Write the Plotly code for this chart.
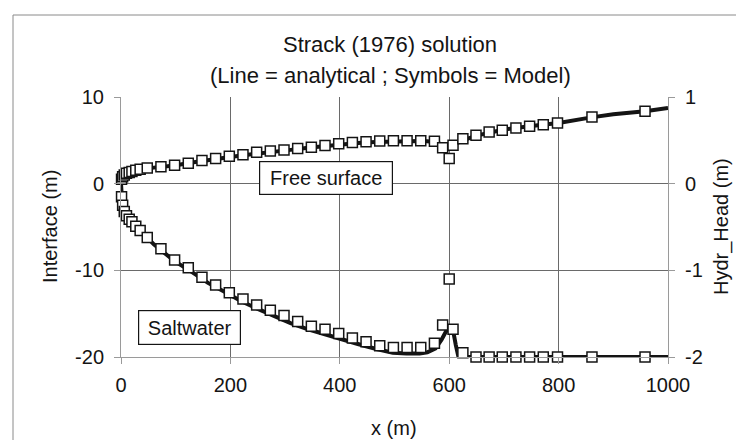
import plotly.graph_objects as go

# ---------------- data ----------------
# analytical solution (lines)
line_x = [0, 2, 5, 10, 20, 37, 60, 98, 130, 159, 190, 220, 250, 281, 310, 342, 372,
          403, 433, 465, 497, 522, 546, 560, 575, 586, 593, 598, 603, 607, 612, 617,
          625, 650, 675, 700, 750, 800, 860, 900, 958, 1000]
line_interface = [0, -2.0, -3.0, -3.8, -4.6, -5.5, -7.0, -8.95, -10.2, -11.45, -12.5,
                  -13.57, -14.45, -15.3, -16.1, -16.8, -17.4, -18.0, -18.5, -19.05,
                  -19.5, -19.6, -19.6, -19.45, -19.0, -18.0, -17.1, -16.6, -16.6, -16.9,
                  -18.6, -20, -20, -20, -20, -20, -20, -20, -20, -20, -20, -20]
line_head = [0, 0.07, 0.095, 0.115, 0.14, 0.165, 0.185, 0.21, 0.245, 0.275, 0.30, 0.325,
             0.35, 0.37, 0.39, 0.415, 0.435, 0.455, 0.47, 0.482, 0.49, 0.493, 0.492,
             0.488, 0.478, 0.455, 0.43, 0.40, 0.42, 0.44, 0.46, 0.475, 0.50, 0.555,
             0.595, 0.625, 0.665, 0.70, 0.765, 0.80, 0.835, 0.873]

# model results (symbols)
model_x = [1, 3, 6, 10, 15, 20, 27, 35, 48, 73, 98, 123, 148, 173, 198, 223, 248, 273,
           298, 323, 348, 373, 398, 423, 448, 473, 498, 523, 548, 573, 588, 600, 607,
           625, 649, 673, 697, 722, 747, 772, 798, 861, 958]
model_interface = [-1.5, -2.5, -3.2, -3.7, -4.1, -4.4, -4.9, -5.4, -6.2, -7.5, -8.8, -9.7,
                   -10.8, -11.7, -12.6, -13.3, -14.0, -14.6, -15.2, -15.9, -16.45, -16.8,
                   -17.3, -17.8, -18.25, -18.7, -18.9, -18.9, -18.9, -18.4, -16.3, -11.0,
                   -16.8, -19.5, -20, -20, -20, -20, -20, -20, -20, -20, -20]
model_head = [0.05, 0.08, 0.10, 0.12, 0.13, 0.14, 0.155, 0.165, 0.181, 0.195, 0.212,
              0.235, 0.266, 0.289, 0.316, 0.335, 0.362, 0.377, 0.389, 0.405, 0.42, 0.44,
              0.46, 0.475, 0.485, 0.492, 0.495, 0.495, 0.495, 0.488, 0.415, 0.289, 0.443,
              0.519, 0.558, 0.596, 0.615, 0.642, 0.662, 0.681, 0.70, 0.769, 0.835]

x_ticks = [0, 200, 400, 600, 800, 1000]
y_ticks = [-20, -10, 0, 10]
y_labels = ["-20", "-10", "0", "10"]
y2_ticks = [-2, -1, 0, 1]
y2_labels = ["-2", "-1", "0", "1"]

title_1 = "Strack (1976) solution"
title_2 = "(Line = analytical ; Symbols = Model)"

# ---------------- figure ----------------
FONT = "Liberation Sans, Arial, sans-serif"
BLACK = "#141414"
GRID = "#6a6a6a"
AXIS = "#9a9a9a"
FS = 20

fig = go.Figure()

fig.add_trace(go.Scatter(x=line_x, y=line_interface, mode="lines",
                         line=dict(color=BLACK, width=4), yaxis="y",
                         showlegend=False))
fig.add_trace(go.Scatter(x=line_x, y=line_head, mode="lines",
                         line=dict(color=BLACK, width=4), yaxis="y2",
                         showlegend=False))
marker = dict(symbol="square", size=10, color="white",
              line=dict(color=BLACK, width=1.5))
fig.add_trace(go.Scatter(x=model_x, y=model_interface, mode="markers",
                         marker=marker, yaxis="y", showlegend=False, cliponaxis=False))
fig.add_trace(go.Scatter(x=model_x, y=model_head, mode="markers",
                         marker=marker, yaxis="y2", showlegend=False, cliponaxis=False))

L, R, T, B = 113, 84, 89, 91
W, H = 744, 440
PW, PH = W - L - R, H - T - B


def px(xp):
    return (xp - L) / PW


def py(yp):
    return (H - B - yp) / PH


fig.update_layout(
    width=W, height=H,
    margin=dict(l=L, r=R, t=T, b=B, pad=0),
    paper_bgcolor="white", plot_bgcolor="white",
    font=dict(family=FONT, size=FS, color=BLACK),
    xaxis=dict(range=[0, 1000], tickvals=x_ticks, showgrid=True, gridcolor=GRID,
               gridwidth=1, showline=True, linecolor=AXIS, linewidth=1,
               ticks="outside", ticklen=6, tickcolor=AXIS, zeroline=False,
               tickfont=dict(size=FS), ticklabelstandoff=4),
    yaxis=dict(range=[-20, 10], tickvals=y_ticks, ticktext=y_labels, showgrid=True,
               gridcolor=GRID, gridwidth=1, showline=True, linecolor=AXIS, linewidth=1,
               ticks="outside", ticklen=6, tickcolor=AXIS, zeroline=False,
               tickfont=dict(size=FS), ticklabelstandoff=6),
    yaxis2=dict(range=[-2, 1], tickvals=y2_ticks, ticktext=y2_labels, overlaying="y",
                side="right", showgrid=False, showline=True, linecolor=AXIS,
                linewidth=1, ticks="outside", ticklen=6, tickcolor=AXIS,
                zeroline=False, tickfont=dict(size=FS), ticklabelstandoff=6),
)

ann = []
ann.append(dict(text=title_1, xref="paper", yref="paper", x=px(382), y=py(36),
                showarrow=False, font=dict(size=22), xanchor="center", yanchor="middle"))
ann.append(dict(text=title_2, xref="paper", yref="paper", x=px(382), y=py(67),
                showarrow=False, font=dict(size=22), xanchor="center", yanchor="middle"))
ann.append(dict(text="x (m)", xref="paper", yref="paper", x=px(386), y=py(420),
                showarrow=False, font=dict(size=FS), xanchor="center", yanchor="middle"))
ann.append(dict(text="Interface (m)", xref="paper", yref="paper", x=px(42), y=0.5,
                showarrow=False, font=dict(size=FS), textangle=-90,
                xanchor="center", yanchor="middle"))
ann.append(dict(text="Hydr_Head (m)", xref="paper", yref="paper", x=px(713), y=0.5,
                showarrow=False, font=dict(size=FS), textangle=-90,
                xanchor="center", yanchor="middle"))
ann.append(dict(text="Free surface", xref="x", yref="y", x=375, y=0.65,
                showarrow=False, font=dict(size=FS), bgcolor="white",
                bordercolor=BLACK, borderwidth=1.2, borderpad=4, width=124, height=24))
ann.append(dict(text="Saltwater", xref="x", yref="y", x=126, y=-16.6,
                showarrow=False, font=dict(size=FS), bgcolor="white",
                bordercolor=BLACK, borderwidth=1.2, borderpad=4, width=93, height=25))
fig.update_layout(annotations=ann)

fig.add_shape(type="rect", xref="paper", yref="paper",
              x0=px(5), x1=px(740), y0=py(436), y1=py(7),
              line=dict(color="#8a8a8a", width=1), fillcolor="rgba(0,0,0,0)",
              layer="below")

fig.write_html("out.html")
